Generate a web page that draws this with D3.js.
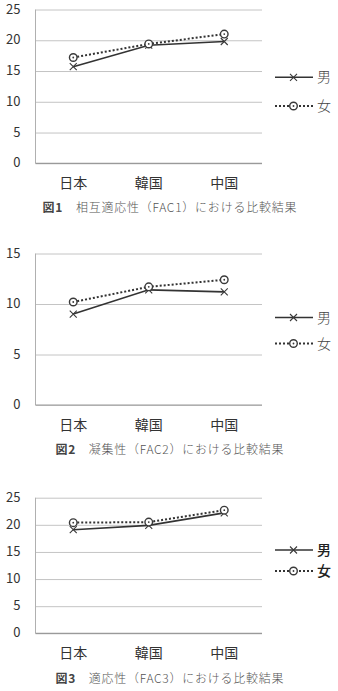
<!DOCTYPE html>
<html>
<head>
<meta charset="utf-8">
<script src="https://cdn.jsdelivr.net/npm/d3@7"></script>
<style>
  html, body { margin: 0; padding: 0; background: #fff; }
  svg { display: block; }
</style>
</head>
<body>
<svg id="charts" width="338" height="691"></svg>
<script>
// Data
const categories = ["日本", "韓国", "中国"];
const seriesNames = ["男", "女"];

const fac1Male = [15.7, 19.2, 19.8];
const fac1Female = [17.2, 19.4, 21.0];
const fac2Male = [9.0, 11.4, 11.2];
const fac2Female = [10.2, 11.7, 12.4];
const fac3Male = [19.1, 19.9, 22.2];
const fac3Female = [20.4, 20.5, 22.7];

const ticks25 = [0, 5, 10, 15, 20, 25];
const ticks15 = [0, 5, 10, 15];

const figLabels = ["図1", "図2", "図3"];
const captions = [
    "相互適応性（FAC1）における比較結果",
    "凝集性（FAC2）における比較結果",
    "適応性（FAC3）における比較結果"
];

const svg = d3.select("#charts");
const font = "'Noto Sans CJK JP', 'Noto Sans', sans-serif";

// one panel per figure
const panels = [
    { male: fac1Male, female: fac1Female, ticks: ticks25, top: 9.5, bottom: 163.3,
      legendY: [77.3, 106], labelY: 188, captionY: 211.5, captionW: 254 },
    { male: fac2Male, female: fac2Female, ticks: ticks15, top: 253.5, bottom: 405,
      legendY: [317.5, 343.5], labelY: 430, captionY: 453.5, captionW: 228 },
    { male: fac3Male, female: fac3Female, ticks: ticks25, top: 497.7, bottom: 633.3,
      legendY: [550, 571], labelY: 658, captionY: 682.5, captionW: 228, boldLegend: true }
];

const left = 35.5, right = 262;

function drawMarker(g, type, cx, cy) {
    if (type === "x") {
        g.append("path")
            .attr("d", `M${cx - 3.5},${cy - 3.5}L${cx + 3.5},${cy + 3.5}M${cx - 3.5},${cy + 3.5}L${cx + 3.5},${cy - 3.5}`)
            .attr("stroke", "#3a3a3a")
            .attr("stroke-width", 1.1)
            .attr("fill", "none");
    } else {
        g.append("circle")
            .attr("cx", cx).attr("cy", cy).attr("r", 3.8)
            .attr("fill", "#fff")
            .attr("stroke", "#3a3a3a")
            .attr("stroke-width", 1.4);
        g.append("circle")
            .attr("cx", cx).attr("cy", cy).attr("r", 0.9)
            .attr("fill", "#3a3a3a");
    }
}

panels.forEach((p, k) => {
    const g = svg.append("g");

    const x = d3.scalePoint()
        .domain(categories)
        .range([left, right])
        .padding(0.5);

    const y = d3.scaleLinear()
        .domain([0, d3.max(p.ticks)])
        .range([p.bottom, p.top]);

    // gridlines + y labels
    const yAxis = g.append("g")
        .attr("transform", `translate(${left},0)`)
        .call(d3.axisLeft(y).tickValues(p.ticks).tickSize(-(right - left)).tickPadding(15));
    yAxis.select(".domain").remove();
    yAxis.selectAll("line")
        .attr("stroke", "#c4c4c4")
        .attr("stroke-width", 1);
    yAxis.selectAll("text")
        .attr("fill", "#333")
        .attr("dy", "0.28em")
        .style("font-family", font)
        .style("font-size", "13px");

    // left border and baseline
    g.append("line")
        .attr("x1", left).attr("x2", left)
        .attr("y1", p.top).attr("y2", p.bottom)
        .attr("stroke", "#b0b0b0");
    g.append("line")
        .attr("x1", left).attr("x2", right)
        .attr("y1", p.bottom).attr("y2", p.bottom)
        .attr("stroke", "#9a9a9a")
        .attr("stroke-width", 1.2);

    // category labels
    g.selectAll(".cat")
        .data(categories)
        .enter().append("text")
        .attr("x", d => x(d))
        .attr("y", p.labelY)
        .attr("text-anchor", "middle")
        .attr("fill", "#333")
        .style("font-family", font)
        .style("font-size", "14px")
        .text(d => d);

    const line = d3.line()
        .x((d, i) => x(categories[i]))
        .y(d => y(d));

    // male: solid, x markers
    g.append("path")
        .datum(p.male)
        .attr("d", line)
        .attr("fill", "none")
        .attr("stroke", "#333")
        .attr("stroke-width", 1.6);
    // female: dotted, circle markers
    g.append("path")
        .datum(p.female)
        .attr("d", line)
        .attr("fill", "none")
        .attr("stroke", "#333")
        .attr("stroke-width", 2)
        .attr("stroke-dasharray", "2 2");

    p.male.forEach((v, i) => drawMarker(g, "x", x(categories[i]), y(v)));
    p.female.forEach((v, i) => drawMarker(g, "o", x(categories[i]), y(v)));

    // legend
    seriesNames.forEach((name, i) => {
        const ly = p.legendY[i];
        const lg = g.append("g");
        lg.append("line")
            .attr("x1", 275).attr("x2", 313)
            .attr("y1", ly).attr("y2", ly)
            .attr("stroke", "#333")
            .attr("stroke-width", i === 0 ? 1.6 : 2)
            .attr("stroke-dasharray", i === 0 ? null : "2 2");
        drawMarker(lg, i === 0 ? "x" : "o", 293.5, ly);
        lg.append("text")
            .attr("x", 317)
            .attr("y", ly + 5)
            .attr("fill", p.boldLegend ? "#222" : "#444")
            .style("font-family", font)
            .style("font-size", "14px")
            .style("font-weight", p.boldLegend ? 500 : 300)
            .text(name);
    });

    // caption
    const cap = g.append("text")
        .attr("x", 169.5)
        .attr("y", p.captionY)
        .attr("text-anchor", "middle")
        .attr("fill", "#555")
        .attr("textLength", p.captionW)
        .attr("lengthAdjust", "spacing")
        .style("font-family", font)
        .style("font-size", "12px");
    cap.append("tspan")
        .style("font-weight", 700)
        .attr("fill", "#444")
        .text(figLabels[k] + "　");
    cap.append("tspan")
        .style("font-weight", 300)
        .text(captions[k]);
});
</script>
</body>
</html>
